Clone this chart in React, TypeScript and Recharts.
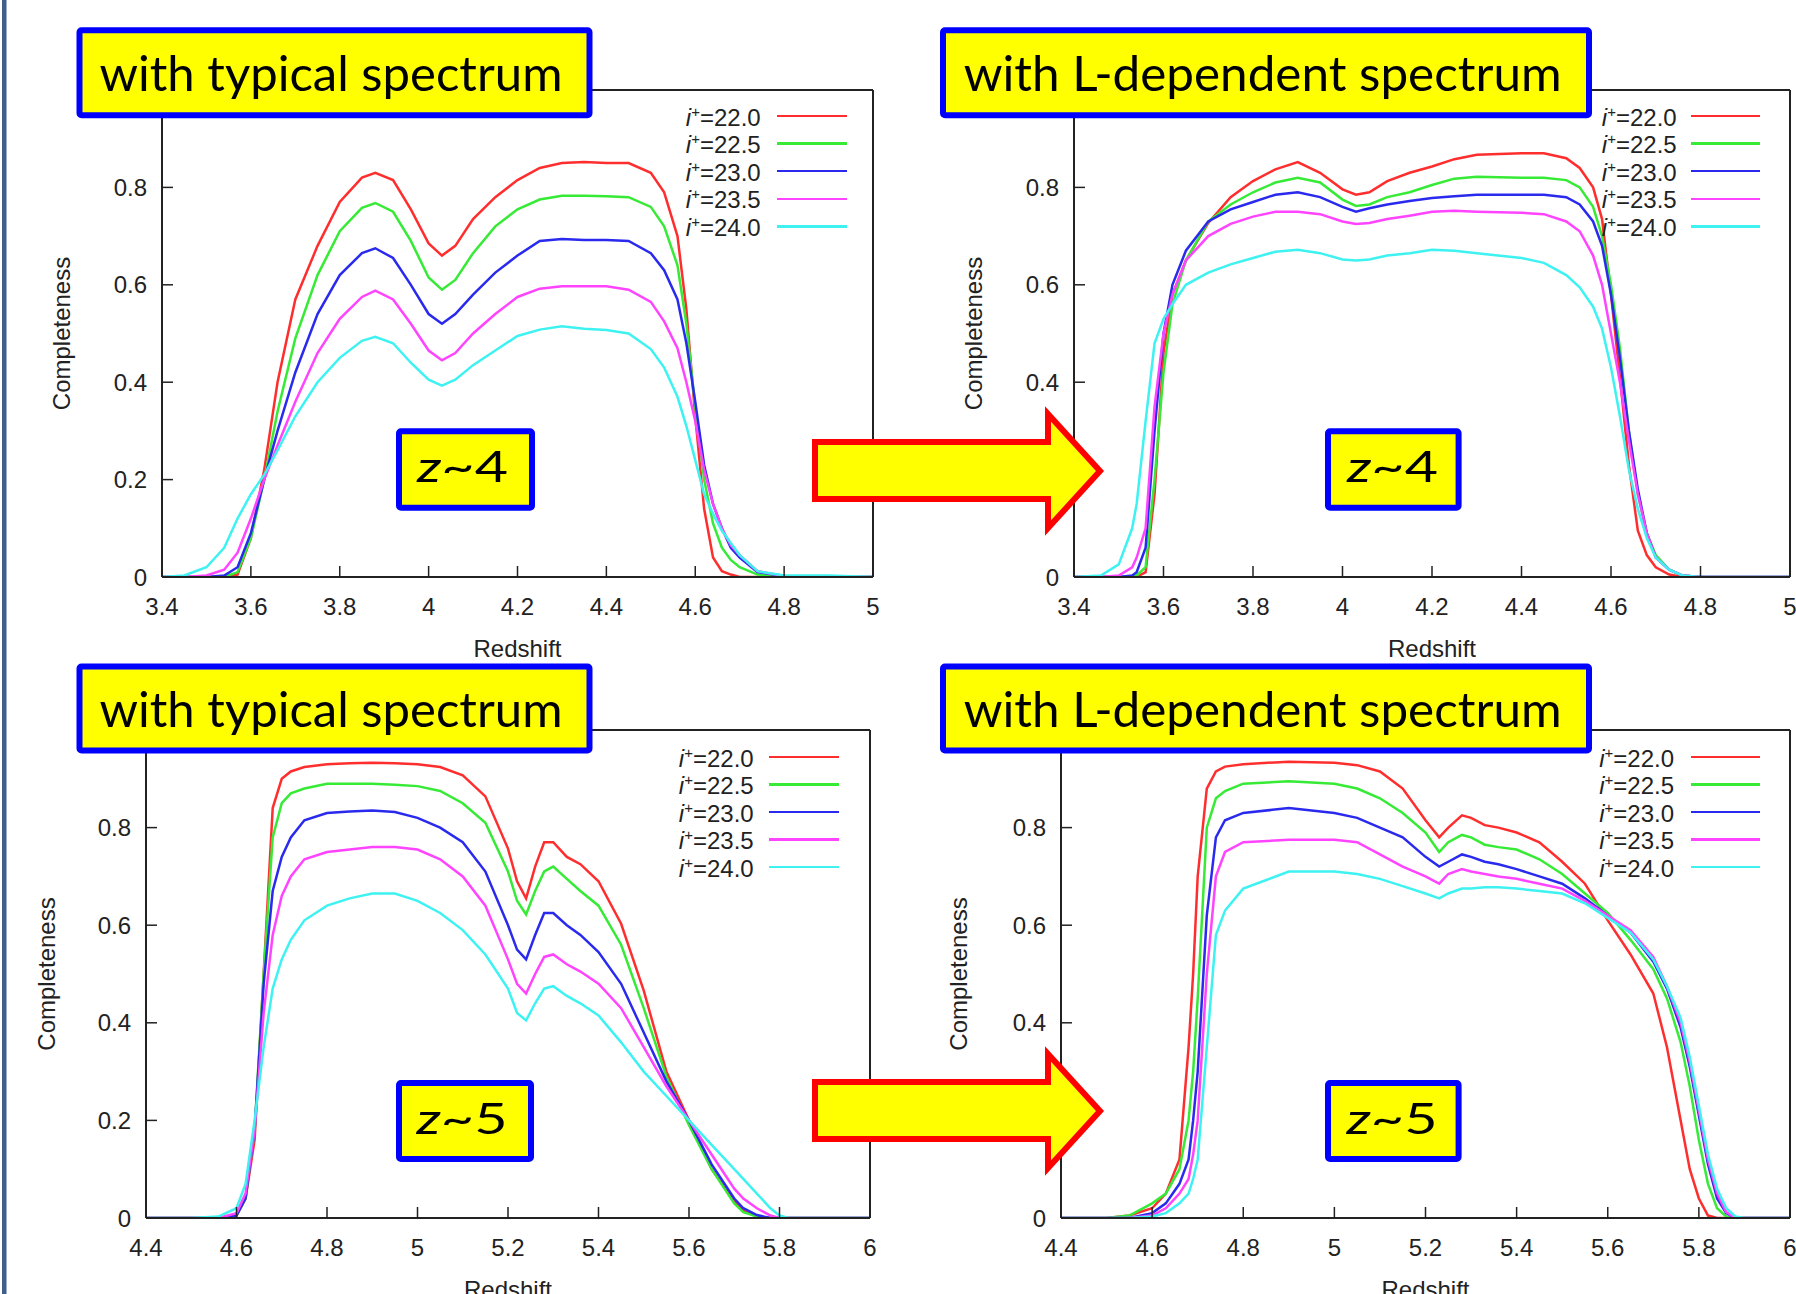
import React from 'react';
import { LineChart, Line, XAxis, YAxis, Legend } from 'recharts';

const FONT = '"Liberation Sans", Arial, sans-serif';
const INK = '#222';

// legend: i+ magnitude limits
const magLabels = ['22.0', '22.5', '23.0', '23.5', '24.0'];
const magColors = ['#ff2e2e', '#36ea36', '#2a2aee', '#ff44ff', '#3ef2f2'];
const seriesKeys = ['m220', 'm225', 'm230', 'm235', 'm240'];

const completenessTicks = [0, 0.2, 0.4, 0.6, 0.8, 1];
const z4Ticks = [3.4, 3.6, 3.8, 4, 4.2, 4.4, 4.6, 4.8, 5];
const z5Ticks = [4.4, 4.6, 4.8, 5, 5.2, 5.4, 5.6, 5.8, 6];

const titleTexts = ['with typical spectrum', 'with L-dependent spectrum'];
const redshiftTags = ['4', '5'];

// z~4, typical spectrum
const z4TypX = [3.4, 3.45, 3.5, 3.54, 3.57, 3.6, 3.63, 3.66, 3.7, 3.75, 3.8, 3.85, 3.88, 3.92, 3.96, 4.0, 4.03, 4.06, 4.1, 4.15, 4.2, 4.25, 4.3, 4.35, 4.4, 4.45, 4.5, 4.53, 4.56, 4.58, 4.6, 4.62, 4.64, 4.66, 4.68, 4.7, 4.74, 4.8, 4.9, 5.0];
const z4Typ220 = [0, 0, 0, 0, 0.005, 0.08, 0.22, 0.4, 0.57, 0.68, 0.77, 0.82, 0.83, 0.815, 0.755, 0.685, 0.66, 0.68, 0.735, 0.78, 0.815, 0.84, 0.85, 0.852, 0.85, 0.85, 0.83, 0.79, 0.7, 0.55, 0.33, 0.14, 0.04, 0.012, 0.005, 0, 0, 0, 0, 0];
const z4Typ225 = [0, 0, 0, 0, 0.01, 0.08, 0.2, 0.34, 0.49, 0.62, 0.71, 0.758, 0.768, 0.75, 0.69, 0.615, 0.59, 0.61, 0.665, 0.72, 0.755, 0.775, 0.783, 0.783, 0.782, 0.78, 0.76, 0.72, 0.64, 0.52, 0.35, 0.2, 0.11, 0.06, 0.035, 0.02, 0.005, 0, 0, 0];
const z4Typ230 = [0, 0, 0, 0.003, 0.02, 0.09, 0.2, 0.3, 0.42, 0.54, 0.62, 0.665, 0.675, 0.655, 0.6, 0.54, 0.52, 0.54, 0.58, 0.625, 0.66, 0.69, 0.694, 0.692, 0.692, 0.69, 0.665, 0.63, 0.57, 0.48, 0.36, 0.23, 0.15, 0.1, 0.06, 0.04, 0.01, 0.002, 0, 0];
const z4Typ235 = [0, 0, 0.003, 0.015, 0.05, 0.12, 0.2, 0.27, 0.36, 0.46, 0.53, 0.575, 0.588, 0.57, 0.52, 0.465, 0.445, 0.46, 0.5, 0.54, 0.575, 0.592, 0.597, 0.597, 0.597, 0.59, 0.565, 0.525, 0.47, 0.4, 0.32, 0.22, 0.15, 0.1, 0.065, 0.045, 0.012, 0.002, 0, 0];
const z4Typ240 = [0, 0.003, 0.02, 0.06, 0.12, 0.17, 0.21, 0.26, 0.33, 0.4, 0.45, 0.485, 0.493, 0.48, 0.44, 0.405, 0.393, 0.405, 0.435, 0.465, 0.495, 0.508, 0.515, 0.51, 0.507, 0.5, 0.468, 0.43, 0.37, 0.31, 0.24, 0.17, 0.13, 0.095, 0.07, 0.045, 0.012, 0.003, 0.003, 0];

// z~4, L-dependent spectrum
const z4LdX = [3.4, 3.46, 3.5, 3.53, 3.54, 3.56, 3.58, 3.6, 3.62, 3.65, 3.7, 3.75, 3.8, 3.85, 3.9, 3.95, 4.0, 4.03, 4.06, 4.1, 4.15, 4.2, 4.25, 4.3, 4.4, 4.45, 4.5, 4.53, 4.56, 4.58, 4.6, 4.62, 4.64, 4.66, 4.68, 4.7, 4.73, 4.76, 4.8, 5.0];
const z4Ld220 = [0, 0, 0, 0, 0, 0.01, 0.17, 0.46, 0.58, 0.65, 0.727, 0.78, 0.813, 0.837, 0.852, 0.83, 0.796, 0.785, 0.79, 0.813, 0.83, 0.843, 0.858, 0.867, 0.87, 0.87, 0.86, 0.84, 0.8, 0.735, 0.58, 0.41, 0.23, 0.095, 0.045, 0.02, 0.005, 0, 0, 0];
const z4Ld225 = [0, 0, 0, 0, 0.003, 0.02, 0.2, 0.42, 0.56, 0.65, 0.73, 0.765, 0.79, 0.81, 0.82, 0.81, 0.775, 0.762, 0.765, 0.78, 0.79, 0.805, 0.818, 0.822, 0.82, 0.82, 0.815, 0.8, 0.76, 0.7, 0.6, 0.47, 0.3, 0.17, 0.09, 0.045, 0.015, 0.003, 0, 0];
const z4Ld230 = [0, 0, 0, 0.003, 0.01, 0.06, 0.3, 0.5, 0.6, 0.67, 0.73, 0.755, 0.77, 0.785, 0.79, 0.78, 0.76, 0.75, 0.757, 0.765, 0.772, 0.778, 0.782, 0.785, 0.785, 0.785, 0.78, 0.765, 0.73, 0.68, 0.58, 0.45, 0.3, 0.18, 0.09, 0.04, 0.015, 0.003, 0, 0];
const z4Ld235 = [0, 0, 0.003, 0.02, 0.04, 0.1, 0.35, 0.5, 0.58, 0.65, 0.7, 0.725, 0.74, 0.75, 0.75, 0.745, 0.73, 0.725, 0.727, 0.735, 0.742, 0.75, 0.752, 0.75, 0.748, 0.745, 0.73, 0.71, 0.66, 0.6, 0.5, 0.4, 0.28, 0.17, 0.09, 0.04, 0.015, 0.003, 0, 0];
const z4Ld240 = [0, 0.003, 0.026, 0.1, 0.15, 0.32, 0.48, 0.53, 0.56, 0.6, 0.625, 0.642, 0.655, 0.668, 0.672, 0.665, 0.652, 0.65, 0.652, 0.66, 0.665, 0.672, 0.67, 0.665, 0.655, 0.645, 0.62, 0.595, 0.555, 0.51, 0.43, 0.33, 0.22, 0.14, 0.08, 0.04, 0.015, 0.003, 0, 0];

// z~5, typical spectrum
const z5TypX = [4.4, 4.5, 4.56, 4.6, 4.62, 4.64, 4.66, 4.68, 4.7, 4.72, 4.75, 4.8, 4.85, 4.9, 4.95, 5.0, 5.05, 5.1, 5.15, 5.2, 5.22, 5.24, 5.26, 5.28, 5.3, 5.33, 5.36, 5.4, 5.45, 5.5, 5.55, 5.6, 5.65, 5.7, 5.72, 5.75, 5.78, 5.8, 5.82, 5.9, 6.0];
const z5Typ220 = [0, 0, 0, 0.005, 0.04, 0.16, 0.5, 0.84, 0.9, 0.915, 0.924, 0.93, 0.932, 0.933, 0.932, 0.93, 0.924, 0.907, 0.864, 0.757, 0.69, 0.655, 0.72, 0.77, 0.77, 0.74, 0.725, 0.69, 0.603, 0.466, 0.3, 0.2, 0.1, 0.035, 0.015, 0.003, 0, 0, 0, 0, 0];
const z5Typ225 = [0, 0, 0, 0.005, 0.04, 0.18, 0.5, 0.78, 0.85, 0.87, 0.88, 0.89, 0.89, 0.89, 0.888, 0.885, 0.875, 0.85, 0.81, 0.71, 0.65, 0.622, 0.67, 0.71, 0.72, 0.695, 0.67, 0.64, 0.56, 0.43, 0.29, 0.19, 0.1, 0.03, 0.012, 0.003, 0, 0, 0, 0, 0];
const z5Typ230 = [0, 0, 0, 0.005, 0.04, 0.18, 0.48, 0.67, 0.74, 0.78, 0.815, 0.83, 0.833, 0.835, 0.832, 0.82, 0.8, 0.77, 0.71, 0.6, 0.55, 0.53, 0.58, 0.625, 0.625, 0.6, 0.58, 0.545, 0.48, 0.38, 0.28, 0.2, 0.11, 0.04, 0.02, 0.006, 0, 0, 0, 0, 0];
const z5Typ235 = [0, 0, 0, 0.01, 0.05, 0.18, 0.42, 0.58, 0.66, 0.7, 0.735, 0.75, 0.755, 0.76, 0.76, 0.755, 0.735, 0.7, 0.64, 0.53, 0.48, 0.46, 0.5, 0.535, 0.54, 0.52, 0.505, 0.48, 0.43, 0.35, 0.27, 0.2, 0.13, 0.06, 0.04, 0.02, 0.005, 0, 0, 0, 0];
const z5Typ240 = [0, 0, 0.003, 0.02, 0.07, 0.2, 0.35, 0.47, 0.53, 0.57, 0.61, 0.64, 0.655, 0.665, 0.665, 0.65, 0.625, 0.59, 0.54, 0.47, 0.42, 0.405, 0.44, 0.47, 0.475, 0.455, 0.44, 0.415, 0.36, 0.3, 0.25, 0.2, 0.15, 0.1, 0.08, 0.05, 0.02, 0.005, 0, 0, 0];

// z~5, L-dependent spectrum
const z5LdX = [4.4, 4.5, 4.55, 4.6, 4.63, 4.66, 4.68, 4.69, 4.7, 4.72, 4.74, 4.76, 4.8, 4.9, 5.0, 5.05, 5.1, 5.15, 5.2, 5.23, 5.25, 5.28, 5.3, 5.33, 5.36, 5.4, 5.45, 5.5, 5.55, 5.6, 5.65, 5.7, 5.73, 5.76, 5.78, 5.8, 5.82, 5.84, 5.86, 5.88, 5.9, 6.0];
const z5Ld220 = [0, 0, 0.005, 0.02, 0.05, 0.12, 0.35, 0.5, 0.7, 0.88, 0.915, 0.925, 0.93, 0.935, 0.933, 0.928, 0.915, 0.88, 0.815, 0.78, 0.8, 0.825, 0.82, 0.805, 0.8, 0.79, 0.77, 0.73, 0.685, 0.61, 0.54, 0.46, 0.35, 0.2, 0.1, 0.04, 0.005, 0, 0, 0, 0, 0];
const z5Ld225 = [0, 0, 0.005, 0.03, 0.05, 0.1, 0.2, 0.3, 0.45, 0.8, 0.86, 0.875, 0.89, 0.895, 0.89, 0.88, 0.86, 0.83, 0.79, 0.75, 0.77, 0.785, 0.78, 0.765, 0.76, 0.755, 0.735, 0.705, 0.665, 0.625, 0.57, 0.51, 0.45, 0.36, 0.27, 0.16, 0.07, 0.02, 0.003, 0, 0, 0];
const z5Ld230 = [0, 0, 0, 0.01, 0.03, 0.07, 0.12, 0.2, 0.3, 0.62, 0.78, 0.815, 0.83, 0.84, 0.83, 0.82, 0.8, 0.78, 0.74, 0.72, 0.73, 0.745, 0.74, 0.73, 0.725, 0.715, 0.7, 0.685, 0.655, 0.62, 0.585, 0.525, 0.47, 0.39, 0.31, 0.21, 0.11, 0.04, 0.01, 0, 0, 0];
const z5Ld235 = [0, 0, 0, 0.005, 0.02, 0.05, 0.08, 0.13, 0.2, 0.5, 0.7, 0.75, 0.77, 0.775, 0.775, 0.77, 0.745, 0.72, 0.7, 0.685, 0.705, 0.715, 0.71, 0.705, 0.7, 0.695, 0.685, 0.675, 0.65, 0.62, 0.59, 0.535, 0.475, 0.4, 0.32, 0.22, 0.12, 0.05, 0.012, 0, 0, 0];
const z5Ld240 = [0, 0, 0, 0.003, 0.01, 0.03, 0.05, 0.08, 0.12, 0.35, 0.58, 0.63, 0.675, 0.71, 0.71, 0.705, 0.695, 0.68, 0.665, 0.655, 0.665, 0.675, 0.675, 0.678, 0.678, 0.675, 0.67, 0.665, 0.645, 0.615, 0.585, 0.53, 0.475, 0.41, 0.33, 0.23, 0.13, 0.06, 0.02, 0.003, 0, 0];

function toRows(xs: number[], series: number[][]) {
  return xs.map((x, i) => {
    const row: any = { x };
    series.forEach((s, k) => {
      row[seriesKeys[k]] = s[i];
    });
    return row;
  });
}

function MagLegend({ gap, lineW, rowH }: { gap: number; lineW: number; rowH: number }) {
  return (
    <div style={{ fontFamily: FONT, fontSize: 24, color: INK }}>
      {magLabels.map((m, i) => (
        <div key={m} style={{ display: 'flex', alignItems: 'center', height: rowH }}>
          <span style={{ width: 100, textAlign: 'right', lineHeight: `${rowH}px`, position: 'relative', top: 3, whiteSpace: 'nowrap' }}>
            <i>i</i>
            <span style={{ fontSize: 15, position: 'relative', top: -9 }}>+</span>={m}
          </span>
          <span style={{ marginLeft: gap, width: lineW, height: 2.5, background: magColors[i] }} />
        </div>
      ))}
    </div>
  );
}

interface PanelProps {
  rows: any[];
  plot: { x0: number; y0: number; x1: number; y1: number };
  domain: [number, number];
  ticks: number[];
  legend: { textRight: number; lineX0: number; lineX1: number; rowTop: number };
  yLabelX: number;
}

// the "1" label sits under the title box in the original, so it is left blank
const completenessFormat = (v: number) => (v === 1 ? '' : String(v));

function Panel({ rows, plot, domain, ticks, legend, yLabelX }: PanelProps) {
  const left = plot.x0 - 140;
  const top = plot.y0 - 10;
  const width = plot.x1 + 6 - left;
  const height = plot.y1 + 100 - top;
  const axisLine = { stroke: INK, strokeWidth: 2 };
  const tickLine = { stroke: INK, strokeWidth: 1.5 };
  const tickFont = { fill: INK, fontSize: 24, fontFamily: FONT };
  const rowH = 27.6;

  return (
    <div style={{ position: 'absolute', left, top, width, height }}>
      <LineChart width={width} height={height} data={rows} margin={{ top: 9, right: 5, bottom: 0, left: 0 }}>
        <XAxis
          dataKey="x"
          type="number"
          domain={domain}
          ticks={ticks}
          interval={0}
          allowDataOverflow
          height={100}
          axisLine={axisLine}
          tickLine={tickLine}
          tickSize={-11}
          tickMargin={32}
          tick={tickFont}
          label={{ value: 'Redshift', position: 'insideBottom', offset: 20, fill: INK, fontSize: 24, fontFamily: FONT }}
        />
        <XAxis
          xAxisId="top"
          orientation="top"
          dataKey="x"
          type="number"
          domain={domain}
          ticks={ticks}
          interval={0}
          allowDataOverflow
          height={1}
          axisLine={axisLine}
          tickLine={tickLine}
          tickSize={-11}
          tick={false}
        />
        <YAxis
          type="number"
          domain={[0, 1]}
          ticks={completenessTicks}
          interval={0}
          allowDataOverflow
          width={140}
          axisLine={axisLine}
          tickLine={tickLine}
          tickSize={-11}
          tickMargin={26}
          tick={tickFont}
          tickFormatter={completenessFormat}
          label={{
            value: 'Completeness',
            angle: -90,
            position: 'insideLeft',
            offset: yLabelX - left,
            fill: INK,
            fontSize: 24,
            fontFamily: FONT,
            style: { textAnchor: 'middle' },
          }}
        />
        <YAxis
          yAxisId="right"
          orientation="right"
          type="number"
          domain={[0, 1]}
          ticks={completenessTicks}
          interval={0}
          allowDataOverflow
          width={1}
          axisLine={axisLine}
          tickLine={tickLine}
          tickSize={-11}
          tick={false}
        />
        <Legend
          layout="vertical"
          align="center"
          verticalAlign="middle"
          wrapperStyle={{ left: legend.textRight - 100 - left, top: legend.rowTop - top, width: 260, height: rowH * 5 }}
          content={() => <MagLegend gap={legend.lineX0 - legend.textRight} lineW={legend.lineX1 - legend.lineX0} rowH={rowH} />}
        />
        {seriesKeys.map((k, i) => (
          <Line
            key={k}
            type="linear"
            dataKey={k}
            stroke={magColors[i]}
            strokeWidth={2.5}
            dot={false}
            isAnimationActive={false}
          />
        ))}
      </LineChart>
    </div>
  );
}

function TitleBox({ x, y, w, h, text, tx, tw, by }: any) {
  return (
    <g>
      <rect x={x + 3} y={y + 3} width={w - 6} height={h - 6} rx={2} fill="#ffff00" stroke="#0000ff" strokeWidth={6} />
      <text x={tx} y={by} fontFamily="Lato, 'Open Sans', sans-serif" fontSize={48} fill="#000" textLength={tw} lengthAdjust="spacingAndGlyphs">
        {text}
      </text>
    </g>
  );
}

function TagBox({ x, y, w, h, tag, cx, by }: any) {
  return (
    <g>
      <rect x={x + 3} y={y + 3} width={w - 6} height={h - 6} rx={2} fill="#ffff00" stroke="#0000ff" strokeWidth={6} />
      <text x={cx} y={by} textAnchor="middle" fontFamily="Lato, 'Open Sans', sans-serif" fontSize={42} fill="#000" textLength={91} lengthAdjust="spacingAndGlyphs">
        <tspan fontStyle="italic">z</tspan>~{tag}
      </text>
    </g>
  );
}

function Arrow({ dy }: { dy: number }) {
  const pts = [
    [815, 442], [1048, 442], [1048, 414], [1100, 471], [1048, 528], [1048, 499], [815, 499],
  ].map(([px, py]) => `${px},${py + dy}`).join(' ');
  return <polygon points={pts} fill="#ffff00" stroke="#ff0000" strokeWidth={6} strokeLinejoin="miter" />;
}

export default function App() {
  const z4TypRows = toRows(z4TypX, [z4Typ220, z4Typ225, z4Typ230, z4Typ235, z4Typ240]);
  const z4LdRows = toRows(z4LdX, [z4Ld220, z4Ld225, z4Ld230, z4Ld235, z4Ld240]);
  const z5TypRows = toRows(z5TypX, [z5Typ220, z5Typ225, z5Typ230, z5Typ235, z5Typ240]);
  const z5LdRows = toRows(z5LdX, [z5Ld220, z5Ld225, z5Ld230, z5Ld235, z5Ld240]);

  return (
    <div style={{ position: 'absolute', left: 0, top: 0, width: 1796, height: 1294, overflow: 'hidden', background: '#fff' }}>
      <Panel
        rows={z4TypRows}
        plot={{ x0: 162, y0: 90, x1: 873, y1: 577 }}
        domain={[3.4, 5]}
        ticks={z4Ticks}
        legend={{ textRight: 760.7, lineX0: 777, lineX1: 847, rowTop: 102.2 }}
        yLabelX={61}
      />
      <Panel
        rows={z4LdRows}
        plot={{ x0: 1074, y0: 90, x1: 1790, y1: 577 }}
        domain={[3.4, 5]}
        ticks={z4Ticks}
        legend={{ textRight: 1676.7, lineX0: 1691, lineX1: 1760, rowTop: 102.2 }}
        yLabelX={973.5}
      />
      <Panel
        rows={z5TypRows}
        plot={{ x0: 146, y0: 730, x1: 870, y1: 1218 }}
        domain={[4.4, 6]}
        ticks={z5Ticks}
        legend={{ textRight: 753.7, lineX0: 769, lineX1: 839, rowTop: 743 }}
        yLabelX={46}
      />
      <Panel
        rows={z5LdRows}
        plot={{ x0: 1061, y0: 730, x1: 1790, y1: 1218 }}
        domain={[4.4, 6]}
        ticks={z5Ticks}
        legend={{ textRight: 1674, lineX0: 1691, lineX1: 1760, rowTop: 743 }}
        yLabelX={958}
      />
      <svg width={1796} height={1294} style={{ position: 'absolute', left: 0, top: 0, pointerEvents: 'none' }}>
        <rect x={2} y={0} width={4.5} height={1294} fill="#3e5f8e" />
        <TitleBox x={76.5} y={27.3} w={516} h={91} text={titleTexts[0]} tx={99.5} tw={463} by={90.7} />
        <TitleBox x={940} y={27.3} w={652} h={91} text={titleTexts[1]} tx={963.7} tw={598} by={90.7} />
        <TitleBox x={76.5} y={663.5} w={516} h={90} text={titleTexts[0]} tx={99.5} tw={463} by={727} />
        <TitleBox x={940} y={663.5} w={652} h={90} text={titleTexts[1]} tx={963.7} tw={598} by={727} />
        <TagBox x={396} y={428.3} w={139} h={82.4} tag={redshiftTags[0]} cx={462.5} by={481.7} />
        <TagBox x={1325} y={428.3} w={136.6} h={82.4} tag={redshiftTags[0]} cx={1392.5} by={481.7} />
        <TagBox x={396} y={1080} w={138} h={82} tag={redshiftTags[1]} cx={462} by={1134} />
        <TagBox x={1325} y={1080} w={136.6} h={82} tag={redshiftTags[1]} cx={1392} by={1134} />
        <Arrow dy={0} />
        <Arrow dy={640} />
      </svg>
    </div>
  );
}
